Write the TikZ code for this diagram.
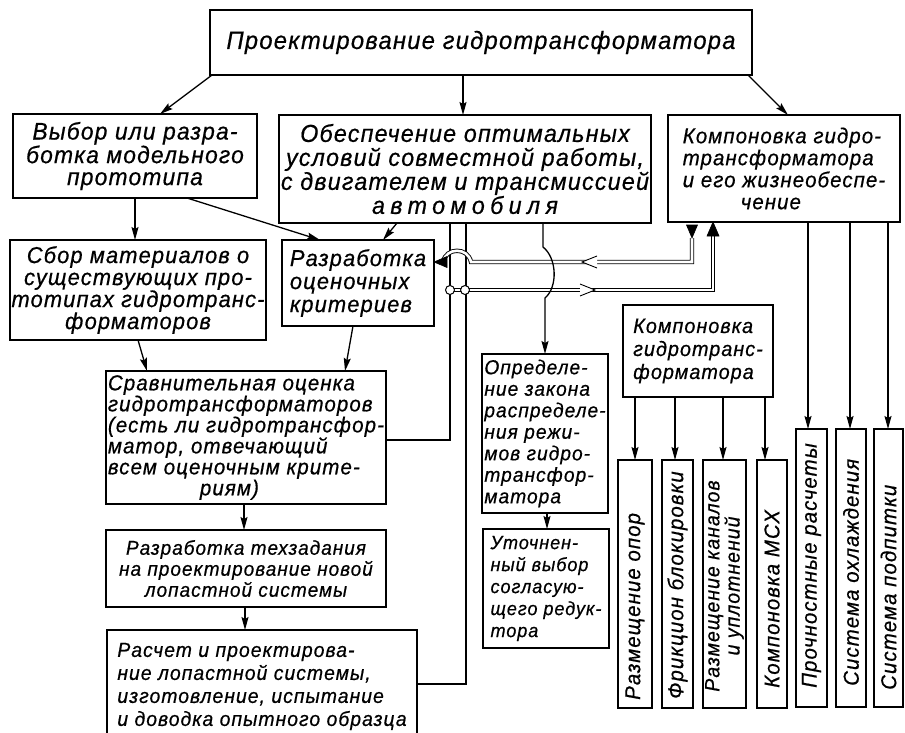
\documentclass[tikz,border=0pt]{standalone}
\usepackage{fontspec}
\newfontfamily\gost{Liberation Sans}[FakeStretch=0.95, LetterSpace=5, FakeBold=0.6]
\usetikzlibrary{arrows.meta}
\begin{document}
\begin{tikzpicture}[x=1pt, y=-1pt,
  box/.style={draw, line width=2pt, inner sep=2pt, outer sep=0pt},
  fsz/.style 2 args={font=\gost\itshape\fontsize{#1}{#2}\selectfont},
  ln/.style={line width=1.3pt},
  arr/.style={ln, -{Stealth[length=13pt,width=7pt,inset=2pt]}},
  dbl/.style={line width=0.9pt, double=white, double distance=2.6pt},
  tipf/.style={fill=black, draw=black, line width=0.6pt},
  otip/.style={fill=white, draw=black, line width=0.9pt},
  ring/.style={circle, draw, fill=white, line width=1pt, minimum size=9pt, inner sep=0pt},
  vt/.style={fsz={21.5}{18}, rotate=90, inner sep=0pt},
]
\useasboundingbox (0,0) rectangle (905,733);

% boxes
\node[box, minimum width=542pt, minimum height=65pt, fsz={25}{26}] (top) at (481,42.5) {Проектирование гидротрансформатора};
\node[box, minimum width=244pt, minimum height=84pt, fsz={24}{22}, align=center] (A) at (135,156) {Выбор или разра-\\ботка модельного\\прототипа};
\node[box, minimum width=370pt, minimum height=108pt, fsz={24.5}{24}, align=center] (B) at (465,169) {Обеспечение оптимальных\\условий совместной работы,\\с двигателем и трансмиссией\\{\addfontfeature{LetterSpace=22}автомобиля}};
\node[box, minimum width=232pt, minimum height=107pt, fsz={21.5}{22}, align=left] (C) at (784,168.5) {Компоновка гидро-\\трансформатора\\и его жизнеобеспе-\\\hspace*{58pt}чение};
\node[box, minimum width=250pt, minimum height=100pt, fsz={23}{22}, align=center] (D) at (138,290) {Сбор материалов о\\существующих про-\\тотипах гидротранс-\\форматоров};
\node[box, minimum width=152pt, minimum height=86pt, fsz={23}{23}, align=left] (E) at (358,283) {Разработка\\оценочных\\критериев};
\node[box, minimum width=280pt, minimum height=133pt, fsz={21.6}{21}, align=left] (F) at (246,437.5) {Сравнительная оценка\\гидротрансформаторов\\(есть ли гидротрансфор-\\матор, отвечающий\\всем оценочным крите-\\\hspace*{92pt}риям)};
\node[box, minimum width=280pt, minimum height=77pt, fsz={20}{21}, align=center] (G) at (246,568.5) {Разработка техзадания\\на проектирование новой\\лопастной системы};
\node[box, minimum width=310pt, minimum height=113pt, fsz={20.4}{23}, align=left] (H) at (262,686.5) {Расчет и проектирова-\\ние лопастной системы,\\изготовление, испытание\\и доводка опытного образца};
\node[box, minimum width=124pt, minimum height=159pt, fsz={20.2}{21.5}, align=left] (O) at (545,433.5) {Определе-\\ние закона\\распределе-\\ния режи-\\мов гидро-\\трансфор-\\матора};
\node[box, minimum width=126pt, minimum height=119pt, fsz={19}{22}, align=left] (U) at (546,588.5) {Уточнен-\\ный выбор\\согласую-\\щего редук-\\тора};
\node[box, minimum width=150pt, minimum height=92pt, fsz={20.8}{23}, align=left] (K) at (698,351) {Компоновка\\гидротранс-\\форматора};

% vertical boxes
\node[box, minimum width=34pt, minimum height=248pt] (V1) at (635,584) {};
\node[box, minimum width=31pt, minimum height=248pt] (V2) at (677.5,584) {};
\node[box, minimum width=43pt, minimum height=248pt] (V3) at (724.5,584) {};
\node[box, minimum width=30pt, minimum height=248pt] (V4) at (772,584) {};
\node[box, minimum width=31pt, minimum height=278pt] (V5) at (811.5,568) {};
\node[box, minimum width=30pt, minimum height=278pt] (V6) at (851,568) {};
\node[box, minimum width=29pt, minimum height=278pt] (V7) at (888.5,568) {};
\node[vt, anchor=west] (V1t) at (635,700) {Размещение опор};
\node[vt, anchor=west] (V2t) at (677.5,699) {Фрикцион блокировки};
\node[vt, align=center, fsz={20.5}{18}] (V3t) at (724.5,586) {Размещение каналов\\и уплотнений};
\node[vt, anchor=west] (V4t) at (772,688) {Компоновка МСХ};
\node[vt, anchor=west] (V5t) at (811.5,688) {Прочностные расчеты};
\node[vt, anchor=west] (V6t) at (851,686) {Система охлаждения};
\node[vt, anchor=west] (V7t) at (888.5,690) {Система подпитки};

% plain arrows
\draw[arr] ([xshift=2pt]top.south west) -- ([xshift=25pt]A.north);
\draw[arr] ([xshift=-18pt]top.south) -- ([xshift=-2pt]B.north);
\draw[arr] ([xshift=-4pt]top.south east) -- ([xshift=4pt]C.north);
\draw[arr] (A.south) -- (A.south |- D.north);
\draw[arr] ([xshift=52pt]A.south) -- ([xshift=-38pt]E.north);
\draw[arr] ([xshift=-68pt]B.south) -- ([xshift=25pt]E.north);
\draw[arr] (D.south) -- ([xshift=-99pt]F.north);
\draw[arr] ([xshift=-5pt]E.south) -- ([xshift=99pt]F.north);
\draw[arr] ([xshift=-2pt]F.south) -- ([xshift=-2pt]G.north);
\draw[arr] ([xshift=-1pt]G.south) -- ([xshift=-17pt]H.north);
\draw[arr] ([xshift=2pt]O.south) -- ([xshift=1pt]U.north);
\draw[arr] ([xshift=24pt]C.south) -- ([xshift=-3.5pt]V5.north);
\draw[arr] ([xshift=66pt]C.south) -- ([xshift=-1pt]V6.north);
\draw[arr] ([xshift=104pt]C.south) -- ([xshift=-0.5pt]V7.north);
\draw[arr] (K.south -| V1.north) -- (V1.north);
\draw[arr] ([xshift=-23pt]K.south) -- ([xshift=-2.5pt]V2.north);
\draw[arr] ([xshift=25pt]K.south) -- ([xshift=-1.5pt]V3.north);
\draw[arr] ([xshift=67pt]K.south) -- ([xshift=-7pt]V4.north);

% feedback verticals
\draw[ln] ([xshift=-15pt]B.south) |- ([yshift=-2.5pt]F.east);
\draw[ln] ([xshift=1pt]B.south) |- ([yshift=2.5pt]H.east);

% double lines
\coordinate (u0) at ([xshift=-92pt, yshift=-16pt]C.south);
\coordinate (j1) at (450,290);
\coordinate (j2) at (465,290);
\draw[dbl] (u0) -- (692,262) -- (471,262) .. controls (468,247) and (446,247) .. (443,262) -- (445,262);
\filldraw[tipf] (u0) -- ++(-5.5,-13) -- ++(11,0) -- cycle;
\filldraw[tipf] ([yshift=21pt]E.east) -- ++(13,-5.5) -- ++(0,11) -- cycle;
\filldraw[otip] (597,256) -- (582,262) -- (597,268);
\draw[dbl] (j1) -- (713,290) -- (713,236);
\filldraw[tipf] ([xshift=-71pt]C.south) -- ++(-6,14) -- ++(12,0) -- cycle;
\filldraw[otip] (580,284) -- (595,290) -- (580,296);
\node[ring] (c1) at (j1) {};
\node[ring] (c2) at (j2) {};

% curve to O
\draw[arr] ([xshift=78pt]B.south) -- (543,247) .. controls (557,258) and (558,287) .. (545,298) -- (O.north);
\end{tikzpicture}
\end{document}
